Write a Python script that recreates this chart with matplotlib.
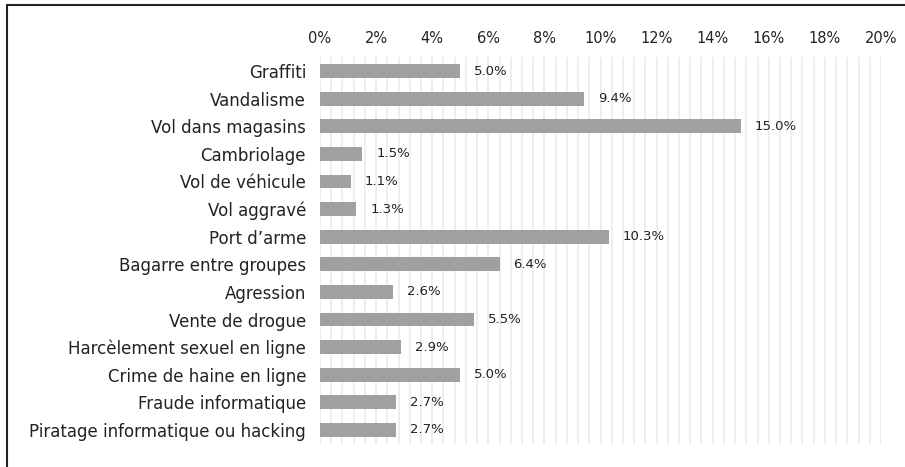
import matplotlib.pyplot as plt
import numpy as np
from matplotlib.patches import Rectangle

categories = [
    "Graffiti",
    "Vandalisme",
    "Vol dans magasins",
    "Cambriolage",
    "Vol de véhicule",
    "Vol aggravé",
    "Port d\u2019arme",
    "Bagarre entre groupes",
    "Agression",
    "Vente de drogue",
    "Harcèlement sexuel en ligne",
    "Crime de haine en ligne",
    "Fraude informatique",
    "Piratage informatique ou hacking",
]
values = [5.0, 9.4, 15.0, 1.5, 1.1, 1.3, 10.3, 6.4, 2.6, 5.5, 2.9, 5.0, 2.7, 2.7]
x_ticks = [0, 2, 4, 6, 8, 10, 12, 14, 16, 18, 20]

plt.rcParams["font.family"] = ["DejaVu Sans"]

fig = plt.figure(figsize=(9.05, 4.67), dpi=100)
ax = fig.add_axes([0.3536, 0.0497, 0.9735 - 0.3536, 0.8775 - 0.0497])

y = np.arange(len(categories))
ax.barh(y, values, height=0.5, color="#a0a0a0", zorder=2)

for yi, v in zip(y, values):
    ax.text(v + 0.5, yi, f"{v:.1f}%", va="center", ha="left", fontsize=9.5, color="#222222")

ax.set_xlim(0, 20)
ax.set_ylim(len(categories) - 0.5, -0.5)
ax.set_yticks(y)
ax.set_yticklabels(categories, fontsize=12, color="#222222")
ax.set_xticks(x_ticks)
ax.set_xticklabels([f"{t}%" for t in x_ticks], fontsize=10.5, color="#222222")
ax.set_xticks(np.arange(0, 20.01, 0.4), minor=True)
ax.xaxis.tick_top()
ax.tick_params(axis="both", which="both", length=0)
ax.tick_params(axis="x", pad=8)
ax.tick_params(axis="y", pad=10)
ax.grid(axis="x", which="both", color="#ebebeb", linewidth=1.2, zorder=0)
ax.set_axisbelow(True)
for s in ax.spines.values():
    s.set_visible(False)

# frame around the figure (cropped at right and bottom)
fig.patches.append(Rectangle((6.5 / 905, -0.1), 1.2, 1.1 - 4.5 / 467,
                             transform=fig.transFigure, fill=False,
                             edgecolor="#222222", linewidth=1.5))

fig.savefig("out.png", dpi=100)
